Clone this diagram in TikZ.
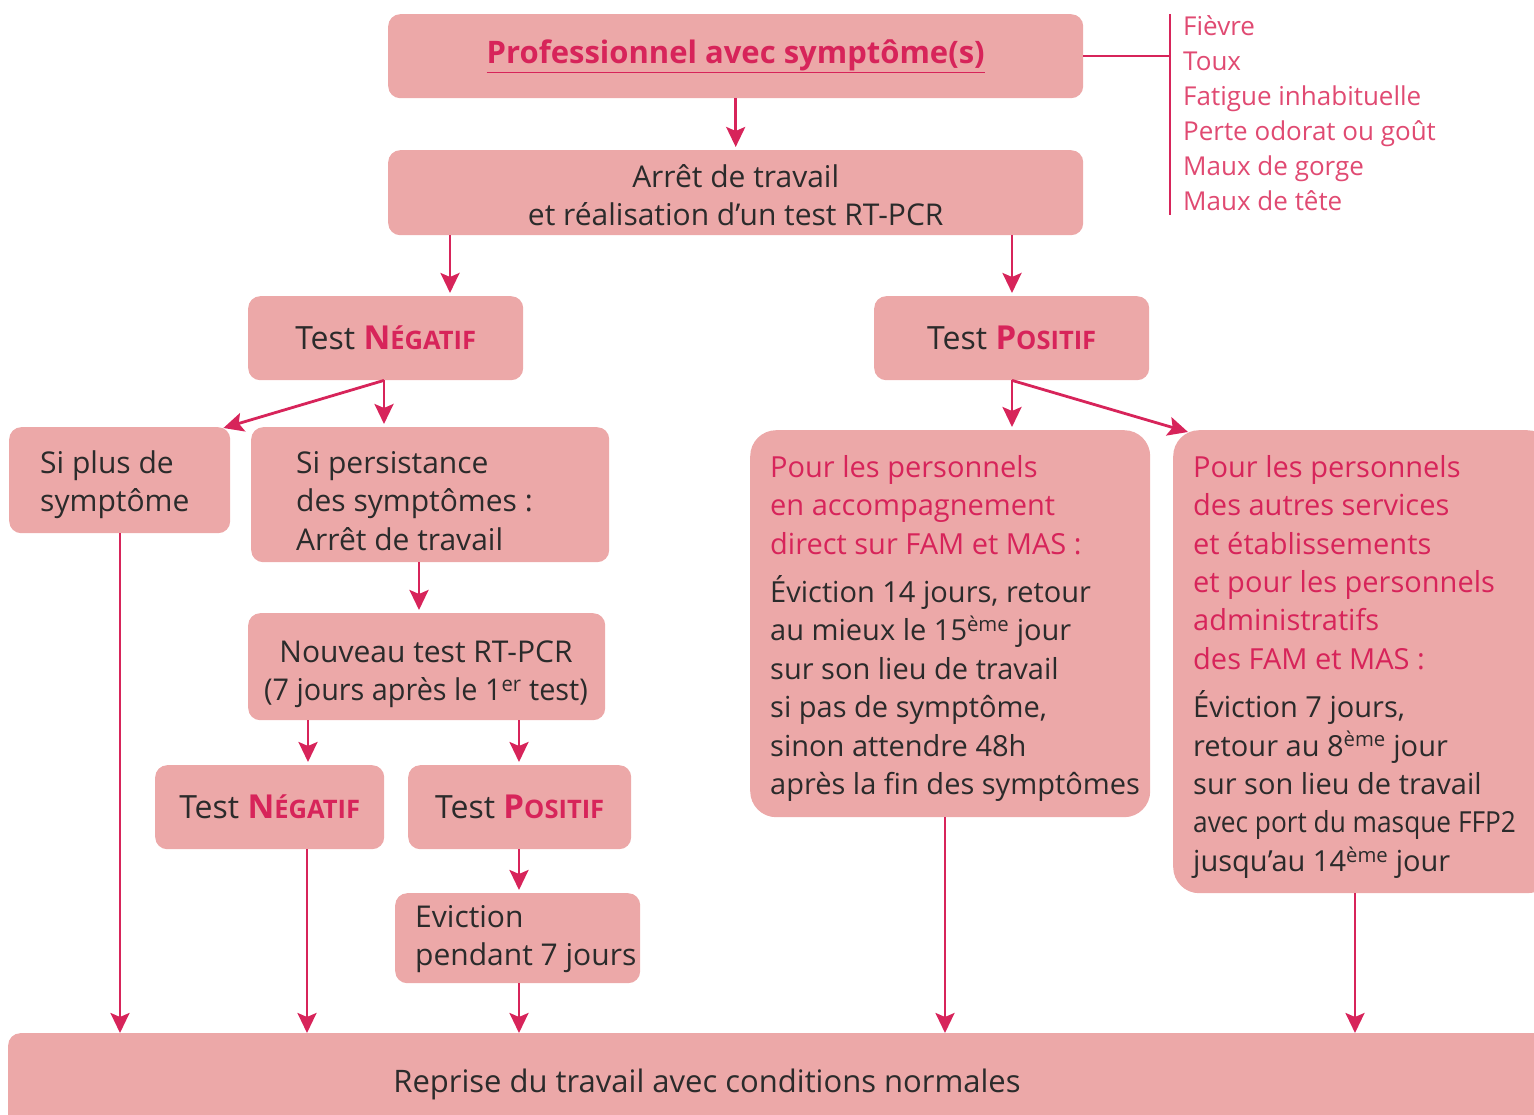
\documentclass[tikz,border=0pt]{standalone}
\usepackage{fontspec}
\setmainfont{Open Sans}
\usetikzlibrary{arrows.meta}
\definecolor{boxfill}{HTML}{ECA8A8}
\definecolor{pk}{HTML}{D7245A}
\definecolor{pklight}{HTML}{E04A72}
\definecolor{txt}{HTML}{2B2B2B}
\newcommand{\bodyfont}{\fontsize{30}{38.4}\selectfont}
\newcommand{\boxfont}{\fontsize{29}{38.4}\selectfont}
\newcommand{\topstrut}{\rule{0pt}{28pt}}
\newcommand{\pkl}[1]{\textcolor{pk}{#1}}
\newcommand{\scword}[2]{{\bfseries\color{pk}{\fontsize{33}{38}\selectfont #1}{\fontsize{25.5}{38}\selectfont #2}}}
\tikzset{
  box/.style={fill=boxfill, rounded corners=12pt, draw=none, text=txt, inner sep=0pt, font=\bodyfont, anchor=north west},
  bigbox/.style={box, rounded corners=26pt},
  lbl/.style={anchor=north west, align=left, inner sep=0pt, font=\bodyfont, text=txt},
  arr/.style={draw=pk, line width=2.8pt, -{Stealth[length=20pt,width=19pt,inset=4pt]}, shorten >=3pt},
  ln/.style={draw=pk, line width=1.6pt},
}
\begin{document}
\begin{tikzpicture}[x=1pt,y=-1pt]
\useasboundingbox (0,0) rectangle (1534,1115);

% boxes
\node[box, minimum width=695pt, minimum height=84pt, font=\fontsize{31}{38}\selectfont] (top) at (388,14)
  {\bfseries\color{pk}\underline{Professionnel avec symptôme(s)}};
\node[box, minimum width=695pt, minimum height=85pt, align=center] (arret) at (388,150)
  {\topstrut Arrêt de travail\\et réalisation d’un test RT-PCR};
\node[box, minimum width=275pt, minimum height=84pt, font=\fontsize{32}{38}\selectfont] (tneg) at (248,296)
  {Test \scword{N}{ÉGATIF}};
\node[box, minimum width=275pt, minimum height=84pt, font=\fontsize{32}{38}\selectfont] (tpos) at (874,296)
  {Test \scword{P}{OSITIF}};
\node[box, minimum width=221pt, minimum height=106pt] (splus) at (9,427) {};
\node[box, minimum width=358pt, minimum height=135pt] (spers) at (251,427) {};
\node[bigbox, minimum width=400pt, minimum height=387pt] (fam) at (750,430) {};
\node[bigbox, minimum width=380pt, minimum height=463pt] (autres) at (1173,430) {};
\node[box, minimum width=357pt, minimum height=107pt] (nouv) at (248,613) {};
\node[box, minimum width=229pt, minimum height=84pt, font=\fontsize{32}{38}\selectfont] (tneg2) at (155,765)
  {Test \scword{N}{ÉGATIF}};
\node[box, minimum width=223pt, minimum height=84pt, font=\fontsize{32}{38}\selectfont] (tpos2) at (408,765)
  {Test \scword{P}{OSITIF}};
\node[box, minimum width=245pt, minimum height=90pt] (evic) at (395,893) {};
\node[box, minimum width=1545pt, minimum height=100pt] (reprise) at (8,1033) {};

% texts inside boxes (first baseline = y + 28)
\node[lbl] (splustxt) at (40,445) {\topstrut Si plus de\\symptôme};
\node[lbl] (sperstxt) at (296,445) {\topstrut Si persistance\\des symptômes :\\Arrêt de travail};
\node[lbl, align=center, anchor=north] (nouvtxt) at (426,634)
  {\topstrut Nouveau test RT-PCR\\\scalebox{0.96}[1]{(7 jours après le 1\textsuperscript{er} test)}};
\node[lbl] (evictxt) at (415,899) {\topstrut Eviction\\pendant 7 jours};
\node[lbl, font=\boxfont] (famtxt) at (770,449)
  {\topstrut\pkl{Pour les personnels}\\\pkl{en accompagnement}\\\pkl{direct sur FAM et MAS :}\\[10pt]
   Éviction 14 jours, retour\\au mieux le 15\textsuperscript{ème} jour\\sur son lieu de travail\\si pas de symptôme,\\sinon attendre 48h\\après la fin des symptômes};
\node[lbl, font=\boxfont] (autrestxt) at (1193,449)
  {\topstrut\pkl{Pour les personnels}\\\pkl{des autres services}\\\pkl{et établissements}\\\pkl{et pour les personnels}\\\pkl{administratifs}\\\pkl{des FAM et MAS :}\\[10pt]
   Éviction 7 jours,\\retour au 8\textsuperscript{ème} jour\\sur son lieu de travail\\\scalebox{0.905}[1]{avec port du masque FFP2}\\jusqu’au 14\textsuperscript{ème} jour};
\node[lbl, anchor=base, font=\fontsize{31}{38}\selectfont] (reprisetxt) at (707,1092) {Reprise du travail avec conditions normales};

% symptom list
\node[anchor=north west, align=left, inner sep=0pt, text=pklight, font=\fontsize{26}{35}\selectfont] (sympt) at (1183,10)
  {\rule{0pt}{25pt}Fièvre\\Toux\\Fatigue inhabituelle\\Perte odorat ou goût\\Maux de gorge\\Maux de tête};
\coordinate (brtop) at (1170,14);
\coordinate (brbot) at (1170,215);

% bracket
\draw[ln] (top.east) -- (top.east -| brtop);
\draw[ln] (brtop) -- (brbot);

% arrows
\draw[arr] (top.south) -- (arret.north);
\draw[arr] (arret.south -| 450,0) -- (tneg.north -| 450,0);
\draw[arr] (arret.south -| 1012,0) -- (tpos.north -| 1012,0);
\draw[arr] (tneg.south -| 384,0) -- (spers.north -| 384,0);
\draw[arr, shorten >=0pt] (tneg.south -| 384,0) -- ([xshift=-7pt,yshift=-1pt]splus.north east);
\draw[arr] (tpos.south -| 1012,0) -- (fam.north -| 1012,0);
\draw[arr, shorten >=0pt] (tpos.south -| 1012,0) -- ([xshift=15pt,yshift=-2pt]autres.north west);
\draw[arr] (spers.south -| 419,0) -- (nouv.north -| 419,0);
\draw[arr] (nouv.south -| 308,0) -- (tneg2.north -| 308,0);
\draw[arr] (nouv.south -| 519,0) -- (tpos2.north -| 519,0);
\draw[arr] (tpos2.south -| 519,0) -- (evic.north -| 519,0);
\draw[arr] (evic.south -| 519,0) -- ([yshift=-3pt]reprise.north -| 519,0);
\draw[arr] (splus.south -| 120,0) -- ([yshift=-3pt]reprise.north -| 120,0);
\draw[arr] (tneg2.south -| 307,0) -- ([yshift=-3pt]reprise.north -| 307,0);
\draw[arr] (fam.south -| 945,0) -- ([yshift=-3pt]reprise.north -| 945,0);
\draw[arr] (autres.south -| 1355,0) -- ([yshift=-3pt]reprise.north -| 1355,0);
\end{tikzpicture}
\end{document}
